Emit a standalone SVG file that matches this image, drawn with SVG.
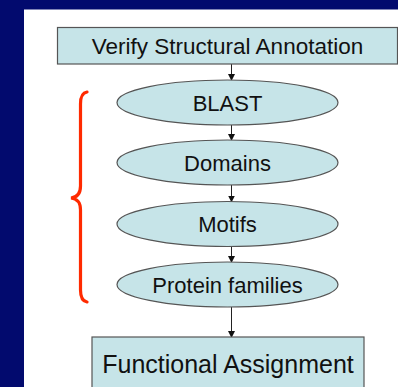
<svg xmlns="http://www.w3.org/2000/svg" width="398" height="387" viewBox="0 0 398 387">
<style>
.box{fill:#c6e4e8;stroke:#555;stroke-width:1.2}
.lbl{font-family:"Liberation Sans",Arial,sans-serif;fill:#111;text-anchor:middle}
.edge{stroke:#222;stroke-width:1;fill:none;marker-end:url(#ah)}
</style>
<defs>
<marker id="ah" markerWidth="7" markerHeight="7" refX="6" refY="3.5" orient="auto" markerUnits="userSpaceOnUse">
<path d="M0,0 L7,3.5 L0,7 Z" fill="#111"/>
</marker>
</defs>
<rect width="398" height="387" fill="#020a6e"/>
<rect x="24" y="9.5" width="380" height="390" fill="#ffffff"/>
<g id="connectors">
<line class="edge" x1="231.5" y1="64" x2="231.5" y2="80"/>
<line class="edge" x1="231.5" y1="125" x2="231.5" y2="140"/>
<line class="edge" x1="231.5" y1="185" x2="231.5" y2="201.5"/>
<line class="edge" x1="231.5" y1="246.5" x2="231.5" y2="262"/>
<line class="edge" x1="231.5" y1="307" x2="231.5" y2="337"/>
</g>
<g id="verify">
<rect class="box" x="57.5" y="27.5" width="340" height="36.5"/>
<text class="lbl" x="227.5" y="53.5" font-size="22.5">Verify Structural Annotation</text>
</g>
<g id="blast">
<ellipse class="box" cx="227.5" cy="102.5" rx="110.5" ry="22.5"/>
<text class="lbl" x="227.5" y="110.5" font-size="22">BLAST</text>
</g>
<g id="domains">
<ellipse class="box" cx="227.5" cy="162.5" rx="110.5" ry="22.5"/>
<text class="lbl" x="227.5" y="170.5" font-size="22">Domains</text>
</g>
<g id="motifs">
<ellipse class="box" cx="227.5" cy="224" rx="110.5" ry="22.5"/>
<text class="lbl" x="227.5" y="232" font-size="22">Motifs</text>
</g>
<g id="protein">
<ellipse class="box" cx="227.5" cy="284.5" rx="110.5" ry="22.5"/>
<text class="lbl" x="227.5" y="292.5" font-size="22">Protein families</text>
</g>
<g id="functional">
<rect class="box" x="92" y="337" width="272" height="60"/>
<text class="lbl" x="228" y="373" font-size="25">Functional Assignment</text>
</g>
<g id="brace">
<path d="M87,92 Q80.5,93 80.5,104 L80.5,186 Q80.5,197 71,198 Q80.5,199 80.5,210 L80.5,290 Q80.5,301 87,302" fill="none" stroke="#ff2a00" stroke-width="3.2" stroke-linecap="round"/>
</g>
</svg>
